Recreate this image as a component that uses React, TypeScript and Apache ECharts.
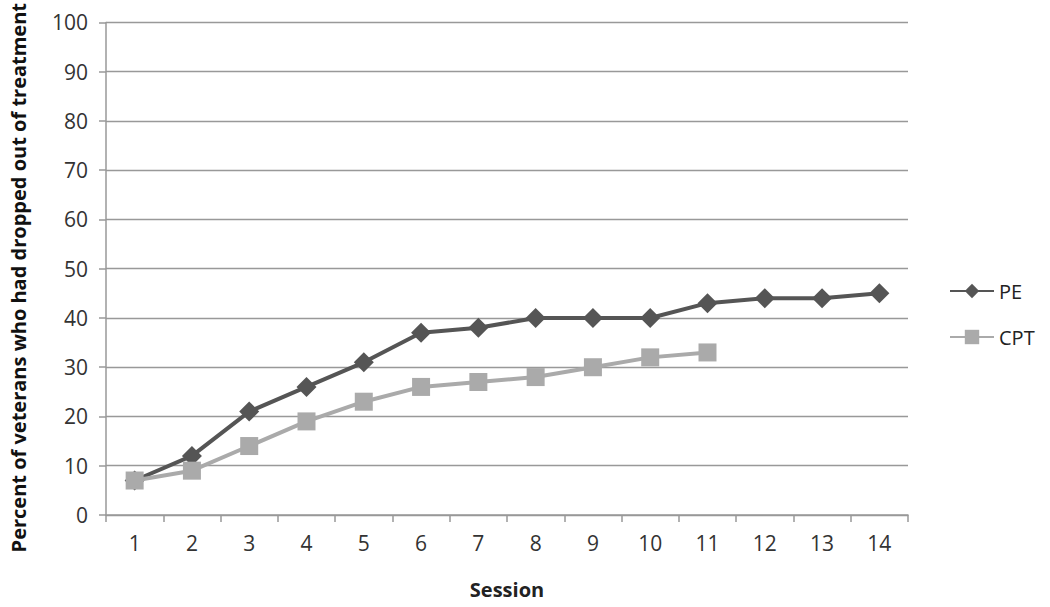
import React, { useEffect, useRef } from "react";
import * as echarts from "echarts";

const sessions = ["1", "2", "3", "4", "5", "6", "7", "8", "9", "10", "11", "12", "13", "14"];
const peValues = [7, 12, 21, 26, 31, 37, 38, 40, 40, 40, 43, 44, 44, 45];
const cptValues = [7, 9, 14, 19, 23, 26, 27, 28, 30, 32, 33];

export default function App() {
  const ref = useRef<HTMLDivElement>(null);
  useEffect(() => {
    const chart = echarts.init(ref.current!, null, { renderer: "svg" });
    chart.setOption({
      animation: false,
      backgroundColor: "#ffffff",
      grid: { left: 100, right: 142, top: 20, bottom: 92 },
      legend: {
        orient: "vertical",
        left: 944,
        top: 276,
        itemWidth: 44,
        itemHeight: 18,
        itemGap: 26,
        textStyle: { fontFamily: "Open Sans", fontSize: 20, color: "#222" },
        data: ["PE", "CPT"],
      },
      xAxis: {
        type: "category",
        data: sessions,
        boundaryGap: true,
        name: "Session",
        nameLocation: "middle",
        nameGap: 64,
        nameTextStyle: { fontFamily: "Open Sans", fontWeight: "bold", fontSize: 20, color: "#222" },
        axisLine: { lineStyle: { color: "#999", width: 1.5 } },
        axisTick: { show: true, length: 7, alignWithLabel: false, lineStyle: { color: "#999", width: 1.5 } },
        axisLabel: { fontFamily: "Open Sans", fontSize: 21, color: "#333", margin: 17 },
      },
      yAxis: {
        type: "value",
        min: 0,
        max: 100,
        interval: 10,
        name: "Percent of veterans who had dropped out of treatment",
        nameLocation: "middle",
        nameGap: 78,
        nameTextStyle: { fontFamily: "Open Sans", fontWeight: "bold", fontSize: 20, color: "#111", padding: [0, 18, 0, 0] },
        axisLine: { show: true, lineStyle: { color: "#999", width: 1.5 } },
        axisTick: { show: true, length: 7, lineStyle: { color: "#999", width: 1.5 } },
        axisLabel: { fontFamily: "Open Sans", fontSize: 21, color: "#333", margin: 18 },
        splitLine: { lineStyle: { color: "#999", width: 1.3 } },
      },
      series: [
        {
          name: "PE",
          type: "line",
          data: peValues,
          symbol: "diamond",
          symbolSize: 20,
          itemStyle: { color: "#555555" },
          lineStyle: { color: "#555555", width: 4 },
          z: 3,
        },
        {
          name: "CPT",
          type: "line",
          data: cptValues,
          symbol: "rect",
          symbolSize: 18,
          itemStyle: { color: "#aaaaaa" },
          lineStyle: { color: "#aaaaaa", width: 4 },
          z: 4,
        },
      ],
    });
    return () => chart.dispose();
  }, []);
  return <div ref={ref} style={{ width: 1050, height: 607, position: "absolute", left: 0, top: 0 }} />;
}
